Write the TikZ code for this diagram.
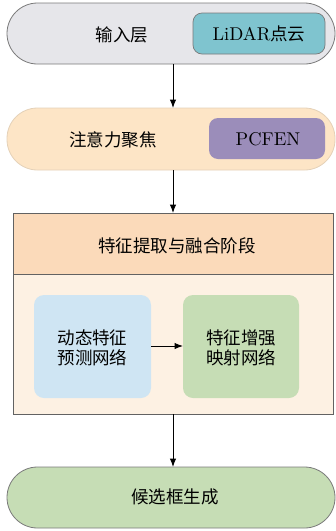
\documentclass[tikz,border=0pt]{standalone}
\usepackage{fontspec}
\setmainfont{lmroman10-regular.otf}
\newfontfamily\cjk{Noto Sans CJK SC}
\usetikzlibrary{arrows.meta}
\definecolor{pillgray}{HTML}{E6E6EA}
\definecolor{lidarteal}{HTML}{7FC4CF}
\definecolor{pillpeach}{HTML}{FDE5C6}
\definecolor{pcfpurple}{HTML}{9B8DBA}
\definecolor{headorange}{HTML}{FBDABA}
\definecolor{bodycream}{HTML}{FDF1E3}
\definecolor{netblue}{HTML}{CFE5F3}
\definecolor{netgreen}{HTML}{C6DDB5}
\definecolor{edgegray}{HTML}{7A7A7A}
\tikzset{
  pill/.style={draw=edgegray, line width=0.8pt, rounded corners=30.5pt},
  tagbox/.style={rounded corners=9pt},
  netbox/.style={rounded corners=10pt},
  flow/.style={-{Latex[length=8.5pt,width=6.5pt]}, line width=1pt},
  zh/.style={font=\cjk\fontsize{17.5}{21}\selectfont, inner sep=0pt},
  lat/.style={font=\fontsize{18.5}{21}\selectfont, inner sep=0pt}
}
\begin{document}
\begin{tikzpicture}[x=1pt,y=-1pt]
\useasboundingbox (0,0) rectangle (336,531);
% input stage
\draw[pill, fill=pillgray] (7,3) rectangle (335,64);
\node[zh] (inlbl) at (122,35) {输入层};
\draw[tagbox, draw=edgegray, line width=0.7pt, fill=lidarteal] (193,13) rectangle (325,54);
\node[inner sep=0pt] (lidar) at (259,34) {\fontsize{18.5}{21}\selectfont LiDAR{\cjk\fontsize{17.5}{21}\selectfont 点云}};
\coordinate (inbot) at (173,64);
% attention stage
\draw[pill, draw=pillpeach!80!gray, fill=pillpeach] (7,108) rectangle (335,170);
\node[zh] (attlbl) at (113,140) {注意力聚焦};
\fill[tagbox, pcfpurple] (209,118) rectangle (325,159);
\node[lat] (pcfen) at (268,139) {PCFEN};
\coordinate (atttop) at (173,108);
\coordinate (attbot) at (173,170);
% feature extraction and fusion stage
\fill[bodycream] (13,274) rectangle (333,414);
\fill[headorange] (13,213) rectangle (333,274);
\draw[draw=edgegray!80!black, line width=0.8pt] (13,213) rectangle (333,414);
\draw[draw=edgegray!80!black, line width=0.6pt] (13,274) -- (333,274);
\node[zh] (fuselbl) at (177,246) {特征提取与融合阶段};
\coordinate (fusetop) at (173,213);
\coordinate (fusebot) at (173,414);
\fill[netbox, netblue] (34,295) rectangle (151,398);
\node[zh, align=center, font=\cjk\fontsize{17.5}{19.5}\selectfont] (dyn) at (92.5,348) {动态特征\\预测网络};
\fill[netbox, netgreen] (183,295) rectangle (299,398);
\node[zh, align=center, font=\cjk\fontsize{17.5}{19.5}\selectfont] (enh) at (241,348) {特征增强\\映射网络};
\coordinate (dynr) at (151,346);
\coordinate (enhl) at (183,346);
% proposal generation
\draw[pill, fill=netgreen] (7,467) rectangle (335,528);
\node[zh] (proplbl) at (175,497) {候选框生成};
\coordinate (proptop) at (173,467);
% connectors
\draw[flow] (inbot) -- (atttop);
\draw[flow] (attbot) -- (fusetop);
\draw[flow] (dynr) -- (enhl);
\draw[flow] (fusebot) -- (proptop);
\end{tikzpicture}
\end{document}
